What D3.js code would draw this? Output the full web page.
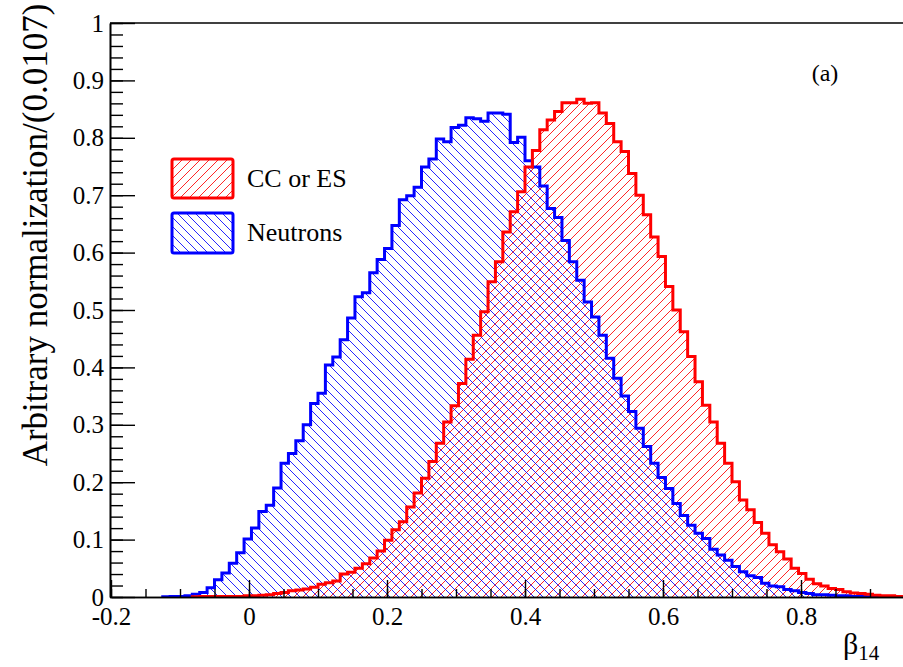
<!DOCTYPE html>
<html>
<head>
<meta charset="utf-8">
<script src="https://cdn.jsdelivr.net/npm/d3@7"></script>
<style>
  body { margin: 0; background: #fff; }
  svg { display: block; }
  text { font-family: "Liberation Serif", "Times New Roman", serif; fill: #000; }
</style>
</head>
<body>
<svg id="chart" width="903" height="667"></svg>
<script>
// Histogram binning: 112 bins of width 0.0107 starting at -0.2
const binStart = -0.2;
const binWidth = 1.2 / 112;

// Neutron beta14 distribution (null = bin not drawn)
const neutronValues = [
  null, null, null, null, null, null, null, 0.0005, 0.001, 0.001,
  0.002, 0.005, 0.008, 0.016, 0.030, 0.042, 0.059, 0.077, 0.101, 0.120,
  0.149, 0.160, 0.190, 0.233, 0.250, 0.272, 0.300, 0.337, 0.355, 0.404,
  0.418, 0.448, 0.486, 0.523, 0.530, 0.565, 0.588, 0.607, 0.647, 0.692,
  0.699, 0.714, 0.749, 0.763, 0.798, 0.793, 0.818, 0.822, 0.835, 0.833,
  0.829, 0.843, 0.843, 0.841, 0.792, 0.801, 0.760, 0.749, 0.716, 0.677,
  0.661, 0.621, 0.584, 0.552, 0.514, 0.488, 0.456, 0.416, 0.381, 0.350,
  0.323, 0.294, 0.262, 0.233, 0.208, 0.189, 0.163, 0.142, 0.125, 0.111,
  0.102, 0.083, 0.073, 0.064, 0.053, 0.044, 0.037, 0.034, 0.024, 0.019,
  0.018, 0.013, 0.011, 0.008, 0.006, 0.004, 0.004, 0.003, 0.002, 0.002,
  0.001, 0.001, 0.0005, 0.0005, 0, 0, 0, 0, 0, 0,
  0, 0
];

// CC or ES beta14 distribution
const ccValues = [
  null, null, null, null, null, null, null, null, null, null,
  null, 0.0005, 0.001, 0.001, 0.001, 0.001, 0.001, 0.001, 0.002, 0.002,
  0.003, 0.004, 0.006, 0.008, 0.011, 0.012, 0.014, 0.017, 0.022, 0.025,
  0.028, 0.040, 0.043, 0.050, 0.058, 0.068, 0.080, 0.099, 0.117, 0.131,
  0.157, 0.181, 0.207, 0.236, 0.268, 0.305, 0.333, 0.372, 0.414, 0.456,
  0.497, 0.549, 0.584, 0.636, 0.671, 0.706, 0.749, 0.778, 0.814, 0.831,
  0.846, 0.861, 0.861, 0.867, 0.860, 0.861, 0.843, 0.825, 0.793, 0.776,
  0.738, 0.700, 0.666, 0.627, 0.593, 0.541, 0.500, 0.462, 0.419, 0.375,
  0.334, 0.305, 0.268, 0.233, 0.201, 0.169, 0.152, 0.130, 0.111, 0.091,
  0.079, 0.066, 0.050, 0.041, 0.031, 0.023, 0.019, 0.015, 0.013, 0.009,
  0.007, 0.006, 0.005, 0.003, 0.002, 0.002, 0.001, 0.001, 0.0005, 0.0005,
  0.0005, 0.0005
];

const seriesNames = ["CC or ES", "Neutrons"];
const seriesColors = ["#ff0000", "#0000ff"];

const xTickValues = [-0.2, 0, 0.2, 0.4, 0.6, 0.8];
const xTickLabels = ["-0.2", "0", "0.2", "0.4", "0.6", "0.8"];
const yTickValues = [0, 0.1, 0.2, 0.3, 0.4, 0.5, 0.6, 0.7, 0.8, 0.9, 1];
const yTickLabels = ["0", "0.1", "0.2", "0.3", "0.4", "0.5", "0.6", "0.7", "0.8", "0.9", "1"];

const yTitle = "Arbitrary normalization/(0.0107)";
const xTitleMain = "β";
const xTitleSub = "14";
const panelLabel = "(a)";

const SERIF = '"Liberation Serif", "Times New Roman", serif';

const svg = d3.select("#chart");
const W = 903, H = 667;

const x = d3.scaleLinear().domain([-0.2, 1.0]).range([111, 939]);
const y = d3.scaleLinear().domain([0, 1]).range([597, 23]);

// Hatch patterns
const defs = svg.append("defs");
const hatchSize = 9;
function hatch(id, color, forward) {
  const p = defs.append("pattern")
    .attr("id", id)
    .attr("patternUnits", "userSpaceOnUse")
    .attr("width", hatchSize)
    .attr("height", hatchSize);
  const s = hatchSize;
  const d = forward
    ? `M0,${s} L${s},0 M${-s / 2},${s / 2} L${s / 2},${-s / 2} M${s / 2},${s * 1.5} L${s * 1.5},${s / 2}`
    : `M0,0 L${s},${s} M${-s / 2},${s / 2} L${s / 2},${s * 1.5} M${s / 2},${-s / 2} L${s * 1.5},${s / 2}`;
  p.append("path").attr("d", d)
    .attr("stroke", color).attr("stroke-width", 1).attr("stroke-opacity", 0.85)
    .attr("fill", "none");
}
hatch("hatch-cc", seriesColors[0], true);
hatch("hatch-n", seriesColors[1], false);

defs.append("clipPath").attr("id", "plot-clip")
  .append("rect").attr("x", 110).attr("y", 0).attr("width", W - 110).attr("height", 598);

// Step outline of a histogram
function stepPoints(values) {
  const pts = [];
  const first = values.findIndex(v => v !== null);
  pts.push([x(binStart + first * binWidth), y(0)]);
  for (let i = first; i < values.length; i++) {
    const v = values[i];
    const x0 = x(binStart + i * binWidth), x1 = x(binStart + (i + 1) * binWidth);
    pts.push([x0, y(v)]);
    pts.push([x1, y(v)]);
  }
  pts.push([x(binStart + values.length * binWidth), y(0)]);
  return pts;
}

const line = d3.line();
const plot = svg.append("g").attr("clip-path", "url(#plot-clip)");

const ccPts = stepPoints(ccValues);
const nPts = stepPoints(neutronValues);

plot.append("path").attr("d", line(ccPts) + "Z").attr("fill", "url(#hatch-cc)").attr("stroke", "none");
plot.append("path").attr("d", line(nPts) + "Z").attr("fill", "url(#hatch-n)").attr("stroke", "none");
plot.append("path").attr("d", line(nPts.slice(0, -1))).attr("fill", "none")
  .attr("stroke", seriesColors[1]).attr("stroke-width", 3).attr("stroke-linejoin", "miter");
plot.append("path").attr("d", line(ccPts.slice(0, -1))).attr("fill", "none")
  .attr("stroke", seriesColors[0]).attr("stroke-width", 3).attr("stroke-linejoin", "miter");

// Axes
const fontSize = 25;
const xMinor = d3.range(-0.2, 1.0001, 0.05).map(v => +v.toFixed(3));
const yMinor = d3.range(0, 1.0001, 0.02).map(v => +v.toFixed(3));

const gx = svg.append("g").attr("transform", `translate(0,${y(0)})`);
gx.call(d3.axisBottom(x).tickValues(xMinor).tickSize(-8).tickSizeOuter(0).tickFormat(""));
const gxMaj = svg.append("g").attr("transform", `translate(0,${y(0)})`);
gxMaj.call(d3.axisBottom(x).tickValues(xTickValues).tickSize(-17).tickSizeOuter(0)
  .tickPadding(10).tickFormat((d, i) => xTickLabels[i]));

const gy = svg.append("g").attr("transform", "translate(110,0)");
gy.call(d3.axisLeft(y).tickValues(yMinor).tickSize(-13).tickSizeOuter(0).tickFormat(""));
const gyMaj = svg.append("g").attr("transform", "translate(110,0)");
gyMaj.call(d3.axisLeft(y).tickValues(yTickValues).tickSize(-25).tickSizeOuter(0)
  .tickPadding(6).tickFormat((d, i) => yTickLabels[i]));

svg.selectAll("g").attr("font-family", SERIF);
svg.selectAll(".domain").attr("stroke", "#000").attr("stroke-width", 1.6);
svg.selectAll(".tick line").attr("stroke", "#000").attr("stroke-width", 1.4);
svg.selectAll(".tick text").attr("font-size", fontSize)
  .style("font-family", SERIF).attr("fill", "#000");

// Frame top edge
svg.append("line").attr("x1", 110).attr("x2", W).attr("y1", y(1)).attr("y2", y(1))
  .attr("stroke", "#000").attr("stroke-width", 1.6);

// Titles
svg.append("text")
  .attr("transform", "translate(47,235) rotate(-90)")
  .attr("text-anchor", "middle")
  .attr("font-size", 35)
  .style("font-family", SERIF)
  .text(yTitle);

const xt = svg.append("text").attr("x", 843).attr("y", 654).attr("font-size", 30)
  .style("font-family", SERIF).text(xTitleMain);
xt.append("tspan").attr("dy", 6).attr("font-size", 21).text(xTitleSub);

svg.append("text").attr("x", 825).attr("y", 81).attr("text-anchor", "middle")
  .attr("font-size", 24).style("font-family", SERIF).text(panelLabel);

// Legend
const legend = svg.append("g");
const legendRows = [
  { name: seriesNames[0], color: seriesColors[0], fill: "url(#hatch-cc)", y: 159, h: 39, ty: 187 },
  { name: seriesNames[1], color: seriesColors[1], fill: "url(#hatch-n)", y: 213, h: 40, ty: 241 }
];
legendRows.forEach(r => {
  legend.append("rect").attr("x", 172).attr("y", r.y).attr("width", 61).attr("height", r.h)
    .attr("rx", 2).attr("fill", r.fill).attr("stroke", r.color).attr("stroke-width", 3);
  legend.append("text").attr("x", 247).attr("y", r.ty).attr("font-size", 26)
    .style("font-family", SERIF).text(r.name);
});
</script>
</body>
</html>
